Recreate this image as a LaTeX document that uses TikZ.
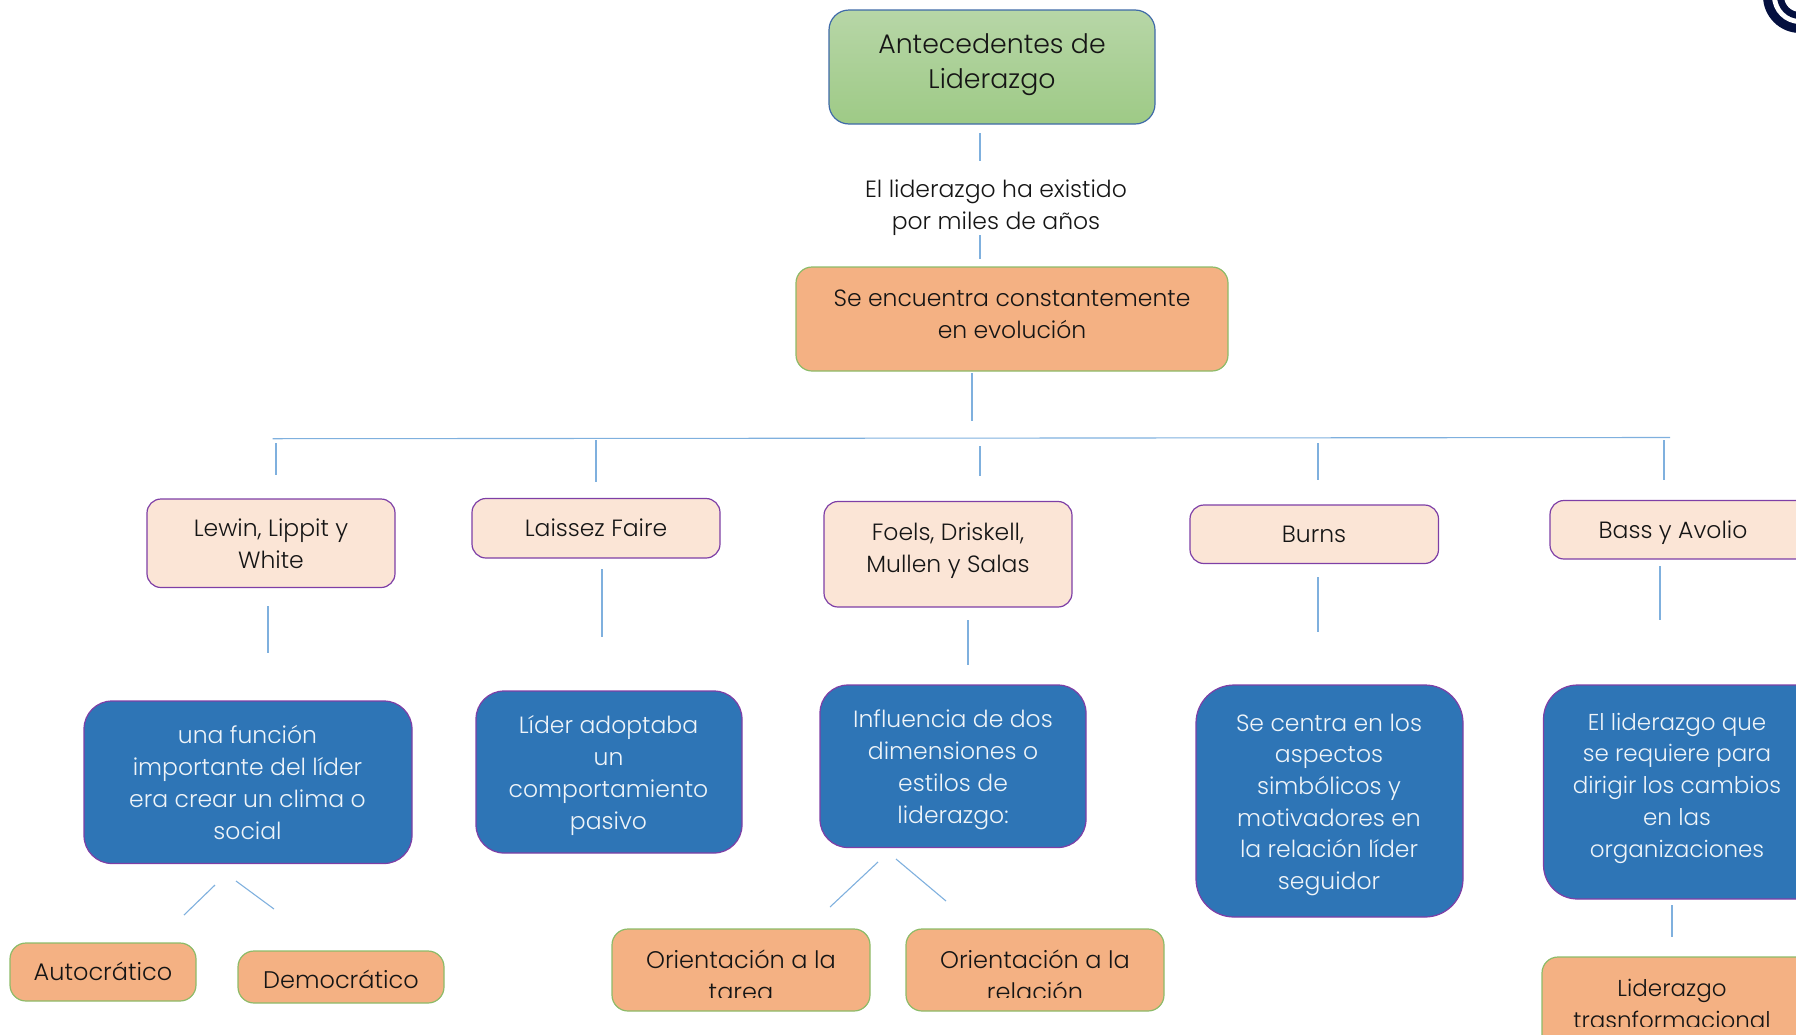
\documentclass[tikz,border=0pt]{standalone}
\usepackage{fontspec}
\setmainfont{Poppins Light}
\definecolor{orangeF}{HTML}{F4B183}
\definecolor{orangeB}{HTML}{8DBB68}
\definecolor{pinkF}{HTML}{FBE5D6}
\definecolor{purpB}{HTML}{7E3FA6}
\definecolor{blueF}{HTML}{2E75B6}
\definecolor{connC}{HTML}{7FB0DE}
\definecolor{navyC}{HTML}{04103F}
\definecolor{inkC}{HTML}{151515}
\definecolor{greenT}{HTML}{B7D6A7}
\definecolor{greenL}{HTML}{9ECA86}
\definecolor{greenB}{HTML}{3F6AA8}
\tikzset{
  x=1pt,y=-1pt,
  boxbase/.style={rounded corners=#1,inner sep=0pt,line width=1.2pt},
  greenbox/.style={boxbase=20pt,draw=greenB,top color=greenT,bottom color=greenL},
  orangebox/.style={boxbase=16pt,fill=orangeF,draw=orangeB},
  pinkbox/.style={boxbase=14pt,fill=pinkF,draw=purpB},
  bluebox/.style={boxbase=#1,fill=blueF,draw=purpB},
  bluebox/.default=28pt,
  txt/.style={align=center,inner sep=0pt,text=inkC,font=\fontsize{23.5}{31.7}\selectfont},
  wtxt/.style={txt,text=white!92!blueF},
  btxt/.style={txt,font=\fontsize{24}{31.7}\selectfont},
  conn/.style={draw=connC,line width=1.1pt},
}
% name, style, x0, y0, x1, y1
\newcommand{\bx}[6]{\path[#2] (#3,#4) rectangle (#5,#6) coordinate[midway] (#1);}
% name, x0,y0,x1,y1
\newcommand{\cn}[5]{\coordinate (#1a) at (#2,#3);\coordinate (#1b) at (#4,#5);\draw[conn] (#1a) -- (#1b);}
\begin{document}
\begin{tikzpicture}
\useasboundingbox (0,0) rectangle (1796,1034);
% logo
\begin{scope}
\clip (1740,0) rectangle (1796,40);
\fill[navyC] (1800,-4) circle (37);
\fill[white] (1800,-4) circle (28);
\fill[navyC] (1800,-4) circle (23);
\fill[white] (1800,-4) circle (16);
\end{scope}
% boxes
\bx{top}{greenbox}{829}{10}{1155}{124}
\node[txt,font=\fontsize{26.8}{35}\selectfont,anchor=base] (ttop) at (992,88) {Antecedentes de\\Liderazgo};
\node[txt,anchor=base] (tsub) at (996,229) {El liderazgo ha existido\\por miles de años};
\bx{evo}{orangebox}{796}{267}{1228}{371}
\node[txt,anchor=base] (tevo) at (1012,338.5) {Se encuentra constantemente\\en evolución};
\cn{c1}{980}{133}{980}{161}
\cn{c2}{980}{235}{980}{259}
\cn{c3}{972}{373}{972}{421}
\cn{hh}{272.6}{438.7}{1670}{437.5}
\cn{v1}{276}{443}{276}{475}
\cn{v2}{596}{440}{596}{482}
\cn{v3}{980}{446}{980}{476}
\cn{v4}{1318}{443}{1318}{480}
\cn{v5}{1664}{440}{1664}{480}
% pink
\bx{p1}{pinkbox}{147}{499}{395}{587.5}
\node[txt,anchor=base] (tp1) at (271,568.5) {Lewin, Lippit y\\White};
\bx{p2}{pinkbox}{472}{498.5}{720}{558}
\node[txt,anchor=base] (tp2) at (596,536) {Laissez Faire};
\bx{p3}{pinkbox}{824}{501.5}{1072}{607}
\node[txt,anchor=base] (tp3) at (948,572.5) {Foels, Driskell,\\Mullen y Salas};
\bx{p4}{pinkbox}{1190}{505}{1438.5}{563.5}
\node[txt,anchor=base] (tp4) at (1314,542) {Burns};
\bx{p5}{pinkbox}{1550}{500.5}{1810}{559}
\node[txt,anchor=base] (tp5) at (1673,538) {Bass y Avolio};
\cn{w1}{268}{606}{268}{653}
\cn{w2}{602}{569}{602}{637}
\cn{w3}{968}{620}{968}{665}
\cn{w4}{1318}{577}{1318}{632}
\cn{w5}{1660}{566}{1660}{620}
% blue
\bx{b1}{bluebox}{84}{701}{412}{863.5}
\node[wtxt,anchor=base] (tb1) at (247.5,839) {una función\\importante del líder\\era crear un clima o\\social};
\bx{b2}{bluebox}{476}{691}{742}{853}
\node[wtxt,anchor=base] (tb2) at (608.5,829) {Líder adoptaba\\un\\comportamiento\\pasivo};
\bx{b3}{bluebox}{820}{685}{1086}{847.5}
\node[wtxt,anchor=base] (tb3) at (953,823) {Influencia de dos\\dimensiones o\\estilos de\\liderazgo:};
\bx{b4}{bluebox=38pt}{1196}{685}{1463}{917}
\node[wtxt,anchor=base] (tb4) at (1329,889.5) {Se centra en los\\aspectos\\simbólicos y\\motivadores en\\la relación líder\\seguidor};
\bx{b5}{bluebox=34pt}{1543.5}{685}{1830}{899}
\node[wtxt,font=\fontsize{23}{31.7}\selectfont,anchor=base] (tb5) at (1677,857) {El liderazgo que\\se requiere para\\dirigir los cambios\\en las\\organizaciones};
\cn{d1}{215}{885}{184}{915}
\cn{d2}{236}{881}{274}{909}
\cn{d3}{878}{862}{830}{907}
\cn{d4}{896}{859}{946}{901}
\cn{d5}{1672}{905}{1672}{937}
% orange bottom
\bx{o1}{orangebox}{10}{943}{196}{1001}
\node[btxt,anchor=base] (to1) at (103,980) {Autocrático};
\bx{o2}{orangebox}{238}{951}{444}{1003}
\node[btxt,anchor=base] (to2) at (341,988) {Democrático};
\bx{o3}{orangebox}{612}{929}{870}{1011}
\bx{o4}{orangebox}{906}{929}{1164}{1011}
\bx{o5}{orangebox}{1542}{957}{1830}{1060}
\begin{scope}
\clip (600,900) rectangle (1200,997);
\node[btxt,anchor=base] (to3) at (741,1000) {Orientación a la\\tarea};
\node[btxt,anchor=base] (to4) at (1035,1000) {Orientación a la\\relación};
\end{scope}
\begin{scope}
\clip (1540,950) rectangle (1796,1026);
\node[txt,font=\fontsize{23}{31.7}\selectfont,anchor=base] (to5) at (1672,1028) {Liderazgo\\trasnformacional};
\end{scope}
\end{tikzpicture}
\end{document}
